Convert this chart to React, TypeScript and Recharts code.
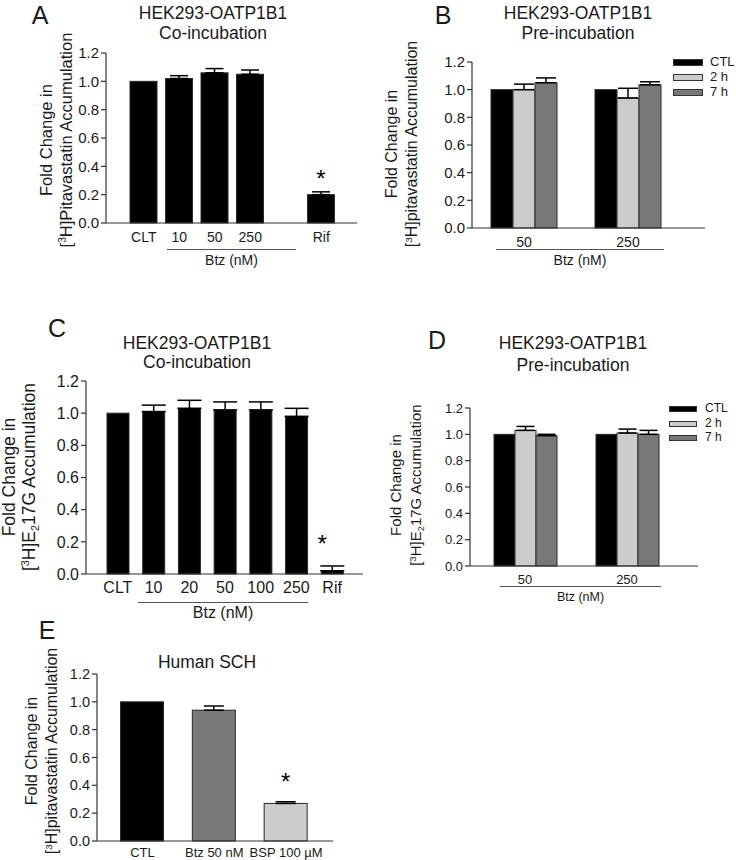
import React from "react";
import { BarChart, Bar, XAxis, YAxis, ErrorBar, LabelList } from "recharts";

const FONT = '"Liberation Sans", Arial, Helvetica, sans-serif';
const BLACK = "#000000";
const LIGHT = "#cccccc";
const DARK = "#787878";
const AXIS = "#333333";
const INK = "#1a1a1a";

const yTicks = [0, 0.2, 0.4, 0.6, 0.8, 1.0, 1.2];

// A: HEK293-OATP1B1 co-incubation, pitavastatin
const aCategories = ["CLT", "10", "50", "250", "Rif"];
const aValues = [1.0, 1.02, 1.06, 1.05, 0.2];
const aErrors = [0, 0.02, 0.03, 0.03, 0.02];
const aStars = ["", "", "", "", "*"];
const aGapAfter = "250";

// B: HEK293-OATP1B1 pre-incubation, pitavastatin
const bGroups = ["50", "250"];
const bSeries = ["CTL", "2 h", "7 h"];
const bCtl = [1.0, 1.0];
const b2h = [1.0, 0.94];
const b7h = [1.05, 1.035];
const bCtlErr = [0, 0];
const b2hErr = [0.04, 0.07];
const b7hErr = [0.035, 0.022];

// C: HEK293-OATP1B1 co-incubation, E217G
const cCategories = ["CLT", "10", "20", "50", "100", "250", "Rif"];
const cValues = [1.0, 1.01, 1.03, 1.02, 1.02, 0.98, 0.02];
const cErrors = [0, 0.04, 0.05, 0.05, 0.05, 0.05, 0.03];
const cStars = ["", "", "", "", "", "", "*"];

// D: HEK293-OATP1B1 pre-incubation, E217G
const dGroups = ["50", "250"];
const dSeries = ["CTL", "2 h", "7 h"];
const dCtl = [1.0, 1.0];
const d2h = [1.03, 1.01];
const d7h = [0.99, 1.0];
const dCtlErr = [0, 0];
const d2hErr = [0.03, 0.03];
const d7hErr = [0.01, 0.03];

// E: human SCH
const eCategories = ["CTL", "Btz 50 nM", "BSP 100 µM"];
const eValues = [1.0, 0.94, 0.27];
const eErrors = [0, 0.03, 0.012];
const eStars = ["", "", "*"];

const groupColors = [BLACK, LIGHT, DARK];
const eColors = [BLACK, DARK, LIGHT];

type Row = Record<string, any>;

const errOf = (e: number) => (e > 0 ? [0, e] : 0);

function singleRows(cats: string[], vals: number[], errs: number[], stars: string[], gapAfter?: string): Row[] {
  const rows: Row[] = [];
  cats.forEach((c, i) => {
    rows.push({ name: c, value: vals[i], err: errOf(errs[i]), sig: stars[i], idx: i });
    if (c === gapAfter) rows.push({ name: " ", value: null, err: 0, sig: "" });
  });
  return rows;
}

function groupRows(groups: string[], series: number[][], errors: number[][]): Row[] {
  return groups.map((g, i) => {
    const row: Row = { name: g };
    series.forEach((vals, k) => {
      row["s" + k] = vals[i];
      row["e" + k] = errOf(errors[k][i]);
    });
    return row;
  });
}

const aRows = singleRows(aCategories, aValues, aErrors, aStars, aGapAfter);
const bRows = groupRows(bGroups, [bCtl, b2h, b7h], [bCtlErr, b2hErr, b7hErr]);
const cRows = singleRows(cCategories, cValues, cErrors, cStars);
const dRows = groupRows(dGroups, [dCtl, d2h, d7h], [dCtlErr, d2hErr, d7hErr]);
const eRows = singleRows(eCategories, eValues, eErrors, eStars);

const star = (lift: number, shift: number) => (props: any) => {
  const { x, y, width, value } = props;
  if (!value) return null;
  return (
    <text x={Number(x) + Number(width) / 2 + shift} y={Number(y) - lift} textAnchor="middle" fontSize={24} fontFamily={FONT} fill={BLACK}>
      {value}
    </text>
  );
};

type BarSpec = {
  key: string;
  err: string;
  fill: string | string[];
  size: number;
  cap: number;
  star?: { lift: number; shift: number };
};

type PlotProps = {
  rows: Row[];
  left: number;
  top: number;
  plotW: number;
  plotH: number;
  padL: number;
  padR: number;
  bars: BarSpec[];
  yFont: number;
  xFont: number;
  xMargin: number;
};

function Plot({ rows, left, top, plotW, plotH, padL, padR, bars, yFont, xFont, xMargin }: PlotProps) {
  const yW = 60;
  const mt = 12;
  const xH = 40;
  return (
    <div style={{ position: "absolute", left: left - yW, top: top - mt }}>
      <BarChart
        width={yW + plotW + 6}
        height={mt + plotH + xH}
        data={rows}
        margin={{ top: mt, right: 6, bottom: 0, left: 0 }}
        barGap={0}
      >
        <XAxis
          dataKey="name"
          interval={0}
          height={xH}
          tickLine={false}
          tickSize={6}
          tickMargin={xMargin}
          padding={{ left: padL, right: padR }}
          axisLine={{ stroke: AXIS, strokeWidth: 1.2 }}
          tick={{ fontSize: xFont, fill: INK, fontFamily: FONT }}
        />
        <YAxis
          type="number"
          domain={[0, 1.2]}
          ticks={yTicks}
          interval={0}
          width={yW}
          tickSize={5}
          tickMargin={2}
          tickFormatter={(v: number) => v.toFixed(1)}
          axisLine={{ stroke: AXIS, strokeWidth: 1.2 }}
          tickLine={{ stroke: AXIS, strokeWidth: 1.2 }}
          tick={{ fontSize: yFont, fill: INK, fontFamily: FONT }}
        />
        {bars.map((b) => (
          <Bar
            key={b.key}
            dataKey={b.key}
            barSize={b.size}
            fill={typeof b.fill === "string" ? b.fill : b.fill[0]}
            stroke="#2a2a2a"
            strokeWidth={1}
            isAnimationActive={false}
            shape={(p: any) => {
              const fill = Array.isArray(b.fill) ? b.fill[p.payload.idx ?? 0] : b.fill;
              if (p.height == null || isNaN(p.height)) return <g />;
              return <rect x={p.x} y={p.y} width={p.width} height={p.height} fill={fill} stroke="#2a2a2a" strokeWidth={1} />;
            }}
          >
            <ErrorBar dataKey={b.err} width={b.cap} stroke={BLACK} strokeWidth={1.5} direction="y" />
            {b.star ? <LabelList dataKey="sig" content={star(b.star.lift, b.star.shift)} /> : null}
          </Bar>
        ))}
      </BarChart>
    </div>
  );
}

function Txt({ x, y, size, children, align = "center" }: any) {
  return (
    <div
      style={{
        position: "absolute",
        left: x,
        top: y,
        transform: align === "center" ? "translate(-50%, -50%)" : "translate(0, -50%)",
        fontSize: size,
        lineHeight: 1.15,
        whiteSpace: "nowrap",
        color: INK,
      }}
    >
      {children}
    </div>
  );
}

function Title({ x, y, lines, size = 17.5, gap = 20 }: any) {
  return (
    <>
      {lines.map((l: string, i: number) => (
        <Txt key={i} x={x} y={y + i * gap} size={size}>
          {l}
        </Txt>
      ))}
    </>
  );
}

const Sup = ({ children }: any) => (
  <span style={{ fontSize: "0.62em", position: "relative", top: "-0.55em" }}>{children}</span>
);
const Sub = ({ children }: any) => (
  <span style={{ fontSize: "0.62em", position: "relative", top: "0.35em" }}>{children}</span>
);

function YLabel({ x, y, size, gap = 20, second }: any) {
  return (
    <div
      style={{
        position: "absolute",
        left: x,
        top: y,
        transform: "translate(-50%, -50%) rotate(-90deg)",
        fontSize: size,
        lineHeight: `${gap}px`,
        textAlign: "center",
        whiteSpace: "nowrap",
        color: INK,
      }}
    >
      <div>Fold Change in</div>
      <div>{second}</div>
    </div>
  );
}

function Bracket({ x, y, w, labelY, size }: any) {
  return (
    <>
      <div style={{ position: "absolute", left: x, top: y, width: w, borderTop: "1px solid #555" }} />
      <Txt x={x + w / 2} y={labelY} size={size}>
        Btz (nM)
      </Txt>
    </>
  );
}

function Legend({ x, y, gap, w, h, size, names, fills, labelX }: any) {
  return (
    <>
      {names.map((n: string, i: number) => (
        <React.Fragment key={n}>
          <div
            style={{
              position: "absolute",
              left: x,
              top: y + i * gap - h / 2,
              width: w,
              height: h,
              background: fills[i],
              border: "1px solid #333",
              boxSizing: "border-box",
            }}
          />
          <Txt x={labelX} y={y + i * gap} size={size} align="left">
            {n}
          </Txt>
        </React.Fragment>
      ))}
    </>
  );
}

const Letter = ({ x, y, children }: any) => (
  <Txt x={x} y={y} size={25}>
    {children}
  </Txt>
);

export default function App() {
  return (
    <div
      style={{
        position: "absolute",
        left: 0,
        top: 0,
        width: 736,
        height: 860,
        background: "#fff",
        fontFamily: FONT,
        overflow: "hidden",
      }}
    >
      {/* A */}
      <Letter x={40} y={15}>A</Letter>
      <Title x={213} y={13} lines={["HEK293-OATP1B1", "Co-incubation"]} />
      <YLabel x={57} y={140} size={16.5} second={<>[<Sup>3</Sup>H]Pitavastatin Accumulation</>} />
      <Plot
        rows={aRows}
        left={106}
        top={53}
        plotW={251}
        plotH={170}
        padL={20}
        padR={18}
        yFont={15}
        xFont={14}
        xMargin={3}
        bars={[{ key: "value", err: "err", fill: BLACK, size: 27, cap: 9, star: { lift: 8, shift: 0 } }]}
      />
      <Bracket x={167} y={249} w={129} labelY={260} size={14} />

      {/* B */}
      <Letter x={443} y={15}>B</Letter>
      <Title x={578} y={13} lines={["HEK293-OATP1B1", "Pre-incubation"]} />
      <YLabel x={403} y={144} size={16} second={<>[<Sup>3</Sup>H]pitavastatin Accumulation</>} />
      <Plot
        rows={bRows}
        left={472}
        top={62}
        plotW={233}
        plotH={166}
        padL={0}
        padR={25}
        yFont={15}
        xFont={14}
        xMargin={3}
        bars={bSeries.map((_, k) => ({ key: "s" + k, err: "e" + k, fill: groupColors[k], size: 22, cap: 10 }))}
      />
      <Legend x={673} y={62} gap={15} w={30} h={7} size={13} names={bSeries} fills={groupColors} labelX={710} />
      <Bracket x={496} y={249} w={168} labelY={260} size={14} />

      {/* C */}
      <Letter x={57} y={328}>C</Letter>
      <Title x={197} y={343} lines={["HEK293-OATP1B1", "Co-incubation"]} gap={19} />
      <YLabel x={20} y={477} size={17.5} second={<>[<Sup>3</Sup>H]E<Sub>2</Sub>17G Accumulation</>} />
      <Plot
        rows={cRows}
        left={86}
        top={381}
        plotW={277}
        plotH={193}
        padL={14}
        padR={13}
        yFont={16}
        xFont={16}
        xMargin={2}
        bars={[{ key: "value", err: "err", fill: BLACK, size: 22, cap: 12, star: { lift: 19, shift: -10 } }]}
      />
      <Bracket x={138} y={602} w={170} labelY={613} size={16} />

      {/* D */}
      <Letter x={437} y={340}>D</Letter>
      <Title x={573} y={343} lines={["HEK293-OATP1B1", "Pre-incubation"]} gap={22} />
      <YLabel x={407} y={485} size={15} gap={20} second={<>[<Sup>3</Sup>H]E<Sub>2</Sub>17G Accumulation</>} />
      <Plot
        rows={dRows}
        left={470}
        top={408}
        plotW={228}
        plotH={158}
        padL={4}
        padR={20}
        yFont={13}
        xFont={13}
        xMargin={3}
        bars={dSeries.map((_, k) => ({ key: "s" + k, err: "e" + k, fill: groupColors[k], size: 21, cap: 9 }))}
      />
      <Legend x={669} y={409} gap={14.5} w={28} h={6} size={12} names={dSeries} fills={groupColors} labelX={705} />
      <Bracket x={500} y={586} w={161} labelY={597} size={12.5} />

      {/* E */}
      <Letter x={47} y={630}>E</Letter>
      <Title x={207} y={662} lines={["Human SCH"]} />
      <YLabel x={43} y={751} size={16} second={<>[<Sup>3</Sup>H]pitavastatin Accumulation</>} />
      <Plot
        rows={eRows}
        left={97}
        top={674}
        plotW={236}
        plotH={167}
        padL={9.5}
        padR={11}
        yFont={14.5}
        xFont={13}
        xMargin={1}
        bars={[{ key: "value", err: "err", fill: eColors, size: 43, cap: 10, star: { lift: 13, shift: 0 } }]}
      />
    </div>
  );
}
